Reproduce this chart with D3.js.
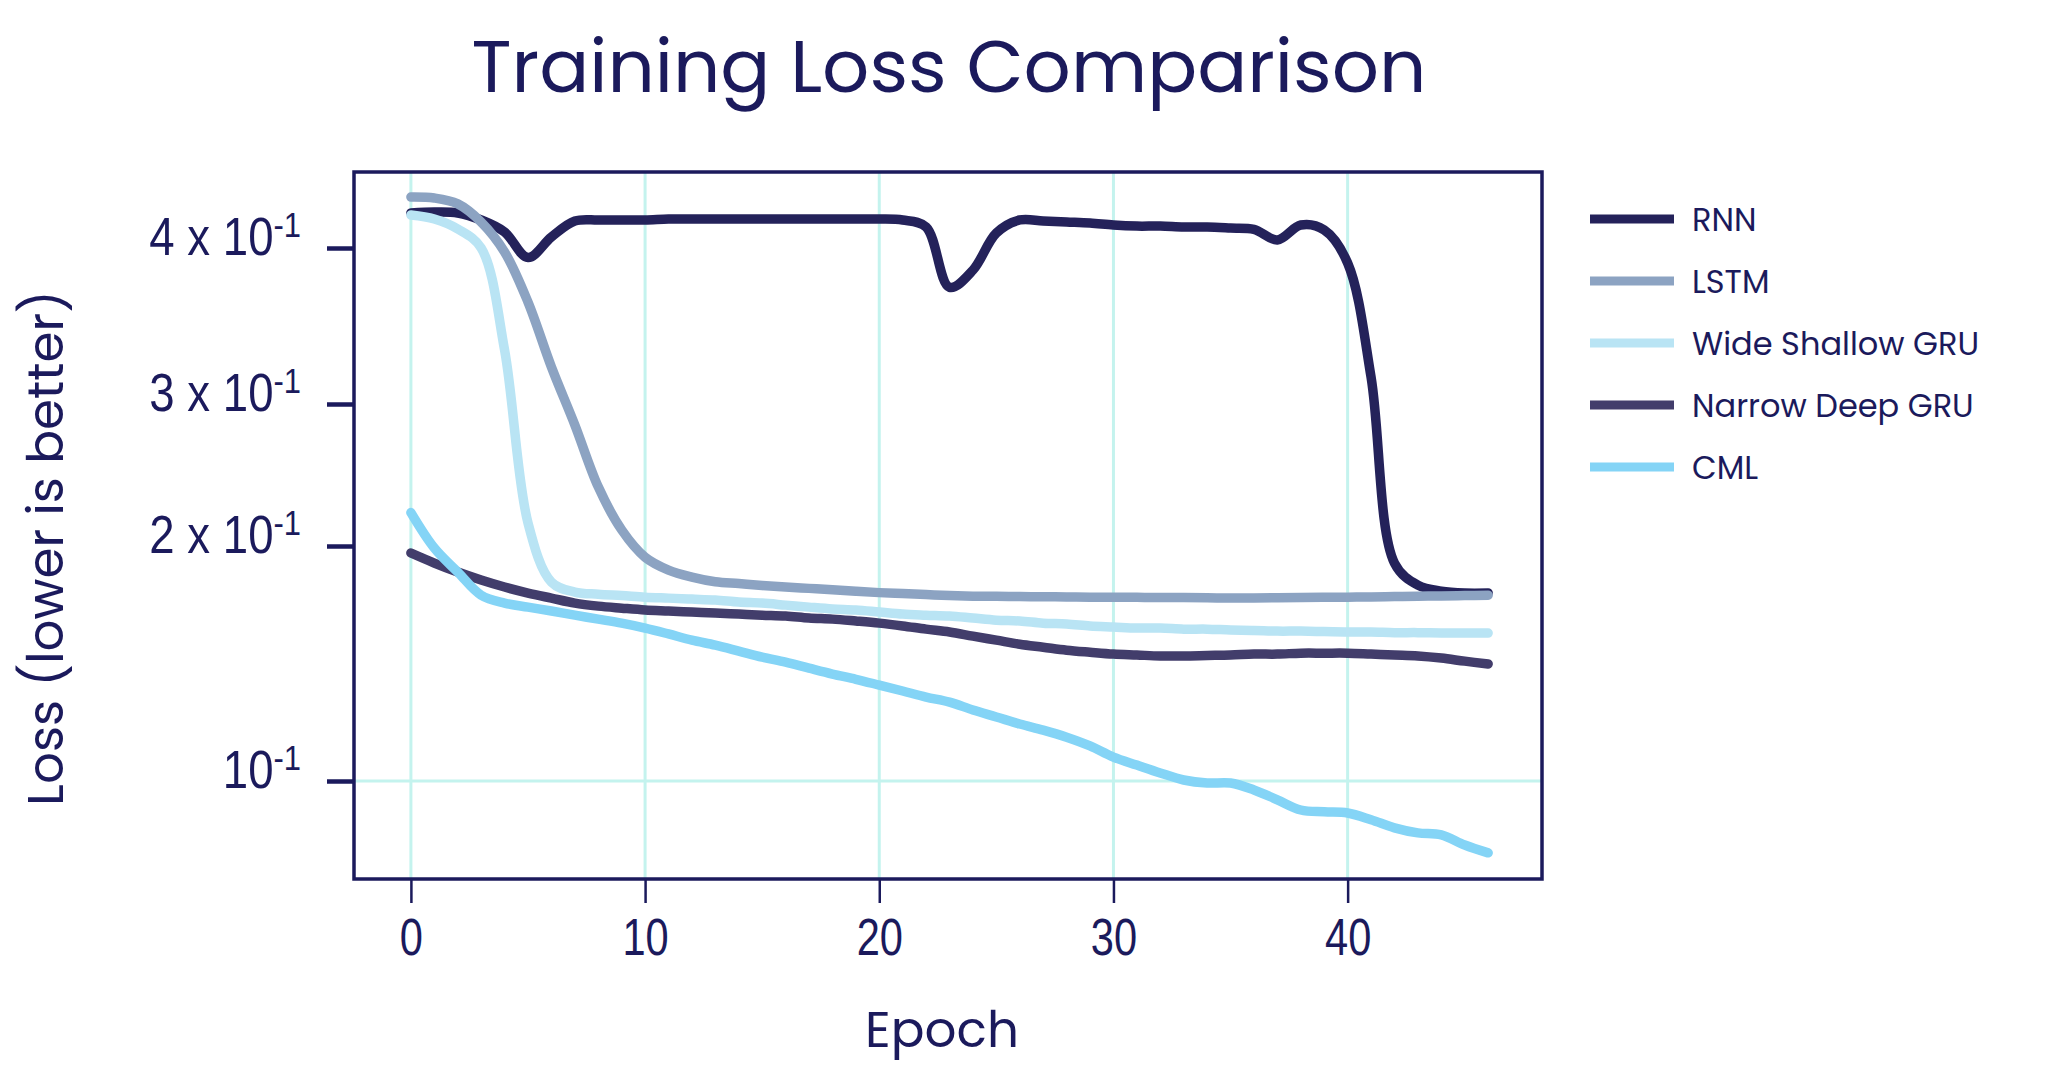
<!DOCTYPE html>
<html>
<head>
<meta charset="utf-8">
<script src="https://cdn.jsdelivr.net/npm/d3@7"></script>
<style>
  html, body { margin: 0; padding: 0; background: #fff; }
  svg { display: block; font-family: Poppins, Inter, "Noto Sans", sans-serif; }
</style>
</head>
<body>
<svg id="chart" width="2048" height="1070"></svg>
<script>
// ---- data ----
const epochs = [0, 1, 2, 3, 4, 5, 6, 7, 8, 9, 10, 11, 12, 13, 14, 15, 16, 17, 18, 19, 20, 21, 22, 23,
  24, 25, 26, 27, 28, 29, 30, 31, 32, 33, 34, 35, 36, 37, 38, 39, 40, 41, 42, 43, 44, 45, 46]

const rnnLoss = [0.4267, 0.4274, 0.4267, 0.4212, 0.4120, 0.3930, 0.4082, 0.4204, 0.4212, 0.4212,
  0.4212, 0.4220, 0.4220, 0.4220, 0.4220, 0.4220, 0.4220, 0.4220, 0.4220, 0.4220,
  0.4220, 0.4212, 0.4158, 0.3720, 0.3840, 0.4112, 0.4212, 0.4204, 0.4196, 0.4188,
  0.4173, 0.4165, 0.4165, 0.4158, 0.4158, 0.4150, 0.4140, 0.4060, 0.4173, 0.4135,
  0.3891, 0.3153, 0.1902, 0.1782, 0.1751, 0.1741, 0.1741]

const lstmLoss = [0.4394, 0.4386, 0.4339, 0.4196, 0.3971, 0.3620, 0.3212, 0.2826, 0.2368, 0.2094,
  0.1935, 0.1863, 0.1825, 0.1800, 0.1790, 0.1780, 0.1772, 0.1765, 0.1758, 0.1750,
  0.1743, 0.1738, 0.1733, 0.1728, 0.1725, 0.1724, 0.1723, 0.1722, 0.1721, 0.1720,
  0.1720, 0.1719, 0.1718, 0.1718, 0.1717, 0.1715, 0.1716, 0.1717, 0.1718, 0.1719,
  0.1720, 0.1721, 0.1723, 0.1725, 0.1726, 0.1728, 0.1730]

const wideShallowLoss = [0.4251, 0.4220, 0.4143, 0.4000, 0.3314, 0.2136, 0.1798, 0.1746, 0.1735, 0.1728,
  0.1720, 0.1715, 0.1710, 0.1705, 0.1695, 0.1690, 0.1680, 0.1670, 0.1661, 0.1656,
  0.1646, 0.1636, 0.1631, 0.1627, 0.1617, 0.1607, 0.1603, 0.1593, 0.1589, 0.1580,
  0.1575, 0.1570, 0.1570, 0.1565, 0.1565, 0.1561, 0.1559, 0.1556, 0.1556, 0.1554,
  0.1552, 0.1552, 0.1549, 0.1549, 0.1547, 0.1547, 0.1547]

const narrowDeepLoss = [0.1959, 0.1902, 0.1852, 0.1809, 0.1772, 0.1741, 0.1715, 0.1690, 0.1675, 0.1665,
  0.1656, 0.1651, 0.1646, 0.1641, 0.1636, 0.1631, 0.1627, 0.1617, 0.1612, 0.1603,
  0.1593, 0.1580, 0.1565, 0.1552, 0.1533, 0.1515, 0.1497, 0.1484, 0.1471, 0.1462,
  0.1454, 0.1450, 0.1446, 0.1446, 0.1448, 0.1450, 0.1454, 0.1454, 0.1458, 0.1458,
  0.1458, 0.1454, 0.1450, 0.1446, 0.1437, 0.1424, 0.1412]

const cmlLoss = [0.2200, 0.1988, 0.1852, 0.1730, 0.1690, 0.1670, 0.1651, 0.1631, 0.1612, 0.1593,
  0.1570, 0.1543, 0.1515, 0.1493, 0.1467, 0.1441, 0.1420, 0.1395, 0.1371, 0.1350,
  0.1327, 0.1304, 0.1281, 0.1262, 0.1233, 0.1208, 0.1183, 0.1162, 0.1138, 0.1109,
  0.1073, 0.1048, 0.1024, 0.1003, 0.0994, 0.0994, 0.0974, 0.0946, 0.0918, 0.0913,
  0.0910, 0.0892, 0.0871, 0.0858, 0.0853, 0.0828, 0.0809]

const seriesNames = ['RNN', 'LSTM', 'Wide Shallow GRU', 'Narrow Deep GRU', 'CML']
const seriesColors = ['#24225a', '#8ca3c2', '#b9e4f4', '#423d6b', '#84d4f6']
const seriesValues = [rnnLoss, lstmLoss, wideShallowLoss, narrowDeepLoss, cmlLoss]

const xTicks = [0, 10, 20, 30, 40]
const yTicks = [0.1, 0.2, 0.3, 0.4]
const yTickLabels = ['10', '2 x 10', '3 x 10', '4 x 10']
const yTickExponent = '-1'

// ---- layout ----
const ink = '#1b1a5c'
const gridColor = '#c4f3ee'
const box = { left: 354, right: 1542, top: 172, bottom: 879 }

const svg = d3.select('#chart')

const x = d3.scaleLinear().domain([-2.43, 48.3]).range([box.left, box.right])
// log axis, piecewise so the decade marks land where the reference puts them
const y = d3.scaleLog().domain(yTicks).range([781, 546, 404, 248])

svg.append('defs').append('clipPath').attr('id', 'plot-clip')
  .append('rect')
  .attr('x', box.left).attr('y', box.top)
  .attr('width', box.right - box.left).attr('height', box.bottom - box.top)

// grid
const grid = svg.append('g')
grid.selectAll('.vgrid')
  .data(xTicks)
  .enter()
  .append('line')
  .attr('class', 'vgrid')
  .attr('x1', d => x(d)).attr('x2', d => x(d))
  .attr('y1', box.top).attr('y2', box.bottom)
  .attr('stroke', gridColor)
  .attr('stroke-width', 3)
grid.append('line')
  .attr('x1', box.left).attr('x2', box.right)
  .attr('y1', y(0.1)).attr('y2', y(0.1))
  .attr('stroke', gridColor)
  .attr('stroke-width', 3)

// series
const line = d3.line()
  .x((d, i) => x(epochs[i]))
  .y(d => y(d))
  .curve(d3.curveCatmullRom.alpha(0.5))

svg.append('g')
  .attr('clip-path', 'url(#plot-clip)')
  .selectAll('.series')
  .data(seriesValues)
  .enter()
  .append('path')
  .attr('class', 'series')
  .attr('d', d => line(d))
  .attr('fill', 'none')
  .attr('stroke', (d, i) => seriesColors[i])
  .attr('stroke-width', 9.5)
  .attr('stroke-linecap', 'round')
  .attr('stroke-linejoin', 'round')

// frame
svg.append('rect')
  .attr('x', box.left).attr('y', box.top)
  .attr('width', box.right - box.left).attr('height', box.bottom - box.top)
  .attr('fill', 'none')
  .attr('stroke', ink)
  .attr('stroke-width', 3.5)

// x axis
const xAxis = svg.append('g')
  .attr('transform', `translate(0,${box.bottom})`)
  .call(d3.axisBottom(x).tickValues(xTicks).tickSize(24).tickFormat(d3.format('d')))
xAxis.select('.domain').remove()
xAxis.selectAll('.tick line').attr('stroke', ink).attr('stroke-width', 2.5)
xAxis.selectAll('.tick text')
  .attr('y', 76).attr('dy', null)
  .attr('fill', ink)
  .attr('font-size', 52)
  .attr('transform', 'scale(0.8,1)')

// y axis
const yAxis = svg.append('g')
  .attr('transform', `translate(${box.left},0)`)
  .call(d3.axisLeft(y).tickValues(yTicks).tickSize(27).tickFormat(''))
yAxis.select('.domain').remove()
yAxis.selectAll('.tick line').attr('stroke', ink).attr('stroke-width', 4.5)
const yLabel = yAxis.selectAll('.tick')
  .append('text')
  .attr('transform', 'translate(-53,6) scale(0.86,1)')
  .attr('text-anchor', 'end')
  .attr('fill', ink)
  .attr('font-size', 53)
yLabel.append('tspan').text((d, i) => yTickLabels[i])
yLabel.append('tspan')
  .attr('font-size', 36)
  .attr('dy', -18)
  .text(yTickExponent)

// titles
svg.append('text')
  .attr('x', 949).attr('y', 92)
  .attr('text-anchor', 'middle')
  .attr('fill', ink)
  .attr('font-size', 74)
  .text('Training Loss Comparison')

svg.append('text')
  .attr('x', 942).attr('y', 1047)
  .attr('text-anchor', 'middle')
  .attr('fill', ink)
  .attr('font-size', 50)
  .text('Epoch')

svg.append('text')
  .attr('transform', 'translate(63,548) rotate(-90)')
  .attr('text-anchor', 'middle')
  .attr('fill', ink)
  .attr('font-size', 50)
  .text('Loss (lower is better)')

// legend
const legend = svg.append('g')
  .selectAll('.legend-item')
  .data(seriesNames)
  .enter()
  .append('g')
  .attr('class', 'legend-item')
  .attr('transform', (d, i) => `translate(1590,${219 + i * 62})`)
legend.append('line')
  .attr('x1', 0).attr('x2', 84)
  .attr('stroke', (d, i) => seriesColors[i])
  .attr('stroke-width', 9)
legend.append('text')
  .attr('x', 102).attr('y', 12)
  .attr('fill', ink)
  .attr('font-size', 32)
  .text(d => d)
</script>
</body>
</html>
